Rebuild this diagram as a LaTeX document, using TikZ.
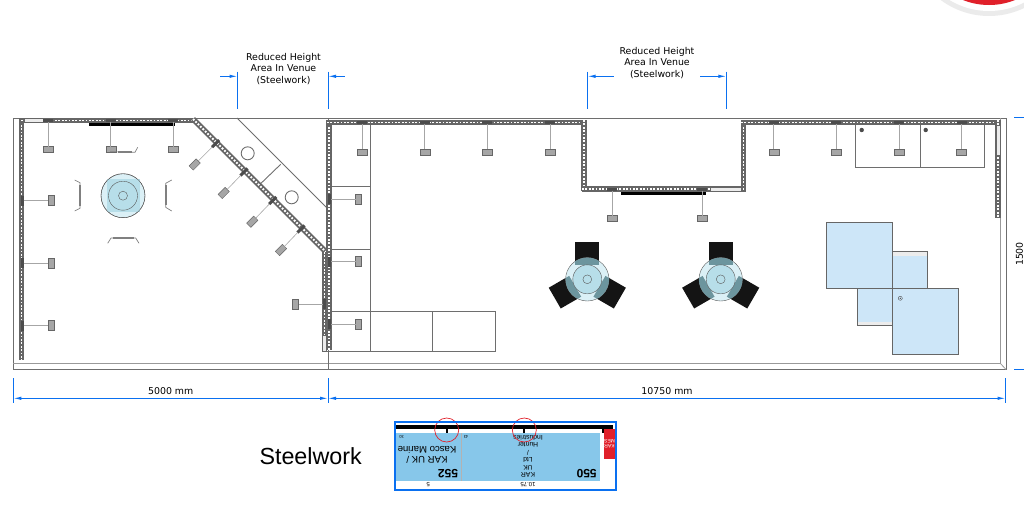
\documentclass[tikz,border=0pt]{standalone}
\usepackage{fontspec}
\setmainfont{DejaVu Sans}
\newfontfamily\arialfont{Liberation Sans}
\usetikzlibrary{arrows.meta}
\definecolor{dimblue}{HTML}{0A70F0}
\definecolor{trussgray}{HTML}{666666}
\definecolor{floorline}{HTML}{6E6E6E}
\definecolor{tablepale}{HTML}{DBF0F6}
\definecolor{tablemid}{HTML}{B7DEE9}
\definecolor{tableedge}{HTML}{6C959E}
\definecolor{platform}{HTML}{CDE6F8}
\definecolor{insetblue}{HTML}{87C7EA}
\definecolor{markred}{HTML}{E0202A}

\tikzset{
  pics/tableset/.style={code={
    \fill[black!92] (-12,-37.6) rectangle (12,-14);
    \fill[black!92,rotate=120] (-12,-37.6) rectangle (12,-14);
    \fill[black!92,rotate=240] (-12,-37.6) rectangle (12,-14);
    \draw[tableline,fill=tablepale] (0,0) circle (21.7);
    \begin{scope}
      \clip (0,0) circle (21.7);
      \fill[tableedge] (-12,-37.6) rectangle (12,-14);
      \fill[tableedge,rotate=120] (-12,-37.6) rectangle (12,-14);
      \fill[tableedge,rotate=240] (-12,-37.6) rectangle (12,-14);
    \end{scope}
    \draw[tableline,fill=tablemid] (0,0) circle (14.5);
    \draw[tableline] (0,0) circle (4.4);
  }}
}

\begin{document}
\begin{tikzpicture}[x=1pt,y=-1pt,
   every node/.style={inner sep=0pt,outer sep=0pt},
   txt/.style={font=\fontsize{9.4}{11.5}\selectfont,align=center},
   inset/.style={font=\arialfont\fontsize{6.8}{7.5}\selectfont,align=center,rotate=180},
   dimline/.style={color=dimblue,line width=1pt},
   dimtip/.style={dimline,{Latex[length=8pt,width=3.4pt]}-},
   dimboth/.style={dimline,{Latex[length=8pt,width=3.4pt]}-{Latex[length=8pt,width=3.4pt]}},
   floor/.style={color=floorline,line width=.9pt},
   thinfloor/.style={color=floorline!70,line width=.8pt},
   truss/.style={color=trussgray,line width=5.6pt,
     postaction={draw=white,line width=1.8pt,dash pattern=on 1.8pt off 1.6pt}},
   gapbar/.style={fill=gray!15,draw=trussgray,line width=.4pt},
   lamph/.style={draw=trussgray,fill=gray!70,line width=.4pt,minimum width=10pt,minimum height=6pt},
   lampv/.style={draw=trussgray,fill=gray!70,line width=.4pt,minimum width=6pt,minimum height=10pt},
   lampd/.style={lamph,rotate=45},
   brh/.style={fill=black!70,minimum width=10pt,minimum height=3pt},
   brv/.style={fill=black!70,minimum width=3pt,minimum height=10pt},
   brd/.style={brh,rotate=45},
   stem/.style={color=gray!70,line width=.6pt},
   chair/.style={color=gray,line width=.7pt},
   chairbar/.style={color=gray,line width=1.8pt},
   tableline/.style={color=black!65,line width=.4pt},
   deck/.style={draw=black!60,fill=platform,line width=.7pt}]
   \useasboundingbox (0,0) rectangle (1024,515);

   % badge cut by the page
   \begin{scope}
     \clip (0,0) rectangle (1024,515);
     \fill[black!8] (989,-65) circle (81);
     \fill[white] (989,-65) circle (76);
     \fill[markred] (989,-65) circle (70);
   \end{scope}

   % hall outline
   \draw[floor] (13,118) rectangle (1006,369.5);
   \draw[thinfloor] (13,363) -- (1000,363) -- (1000,118);
   \draw[thinfloor] (1000,363) -- (1006,369.5);
   \draw[floor] (328,118) -- (328,369.5);

   % corner room and cabinets
   \draw[floor] (237,118) -- (327,208);
   \draw[floor] (261,183.3) -- (280.7,164.3);
   \draw[floor] (247.7,153.3) circle (6.5);
   \draw[floor] (291.7,197.3) circle (6.5);
   \draw[floor] (370,122) -- (370,351);
   \draw[floor] (331,186.7) -- (370,186.7);
   \draw[floor] (331,249.3) -- (370,249.3);
   \draw[floor] (331,311.7) -- (495.7,311.7) -- (495.7,351) -- (323,351);
   \draw[floor] (432.7,311.7) -- (432.7,351);
   \draw[floor] (855.7,122) -- (855.7,167.7) -- (984.3,167.7) -- (984.3,122);
   \draw[floor] (920,122) -- (920,167.7);
   \fill[black!70] (861.7,130) circle (2.2);
   \fill[black!70] (925.7,130) circle (2.2);

   % steelwork
   \draw[truss] (21.5,118) -- (21.5,360);
   \draw[truss] (21,120.5) -- (193,120.5);
   \draw[truss] (193,119) -- (326,252);
   \draw[truss] (329,120) -- (329,350);
   \draw[truss] (324.5,252) -- (324.5,351);
   \draw[truss] (327,122.5) -- (584,122.5);
   \draw[truss] (584,120) -- (584,191);
   \draw[truss] (582,189) -- (746,189);
   \draw[truss] (743.5,120) -- (743.5,191);
   \draw[truss] (741,122.5) -- (1000,122.5);
   \draw[truss] (998,120) -- (998,218);
   \draw[gapbar] (24.5,118.5) rectangle (43,122.5);
   \draw[gapbar] (710,187.3) rectangle (741.5,190.7);
   \draw[gapbar] (322.5,335) rectangle (326.5,351);
   \draw[gapbar] (996,125) rectangle (1000,155);
   \fill[black] (89,122.5) rectangle (175,126);
   \fill[black] (620.7,191.5) rectangle (706,195);

   % lamps, left hall
   \node[brh] (bt1) at (48,120.5) {}; \node[lamph] (lt1) at (48,149.5) {}; \draw[stem] (bt1) -- (lt1);
   \node[brh] (bt2) at (110.7,120.5) {}; \node[lamph] (lt2) at (110.7,149.5) {}; \draw[stem] (bt2) -- (lt2);
   \node[brh] (bt3) at (173,120.5) {}; \node[lamph] (lt3) at (173,149.5) {}; \draw[stem] (bt3) -- (lt3);
   \node[brv] (bw1) at (22,200.5) {}; \node[lampv] (lw1) at (50.7,200.5) {}; \draw[stem] (bw1) -- (lw1);
   \node[brv] (bw2) at (22,263) {}; \node[lampv] (lw2) at (50.7,263) {}; \draw[stem] (bw2) -- (lw2);
   \node[brv] (bw3) at (22,325.5) {}; \node[lampv] (lw3) at (50.7,325.5) {}; \draw[stem] (bw3) -- (lw3);
   \node[brd] (bd1) at (215.6,143.6) {}; \node[lampd] (ld1) at (194.7,164.5) {}; \draw[stem] (bd1) -- (ld1);
   \node[brd] (bd2) at (244,172) {}; \node[lampd] (ld2) at (223.7,193) {}; \draw[stem] (bd2) -- (ld2);
   \node[brd] (bd3) at (272.7,200.5) {}; \node[lampd] (ld3) at (252.3,221.7) {}; \draw[stem] (bd3) -- (ld3);
   \node[brd] (bd4) at (301,229) {}; \node[lampd] (ld4) at (281,250) {}; \draw[stem] (bd4) -- (ld4);
   \node[brv] (bx1) at (324,304) {}; \node[lampv] (lx1) at (295.5,304) {}; \draw[stem] (bx1) -- (lx1);

   % lamps, right hall
   \node[brv] (br1) at (329.5,199) {}; \node[lampv] (lr1) at (358.6,199) {}; \draw[stem] (br1) -- (lr1);
   \node[brv] (br2) at (329.5,261.5) {}; \node[lampv] (lr2) at (358.6,261.5) {}; \draw[stem] (br2) -- (lr2);
   \node[brv] (br3) at (329.5,324) {}; \node[lampv] (lr3) at (358.6,324) {}; \draw[stem] (br3) -- (lr3);
   \node[brh] (bu1) at (362,122.5) {}; \node[lamph] (lu1) at (362,152) {}; \draw[stem] (bu1) -- (lu1);
   \node[brh] (bu2) at (424.7,122.5) {}; \node[lamph] (lu2) at (424.7,152) {}; \draw[stem] (bu2) -- (lu2);
   \node[brh] (bu3) at (487.3,122.5) {}; \node[lamph] (lu3) at (487.3,152) {}; \draw[stem] (bu3) -- (lu3);
   \node[brh] (bu4) at (550,122.5) {}; \node[lamph] (lu4) at (550,152) {}; \draw[stem] (bu4) -- (lu4);
   \node[brh] (bm1) at (612,189) {}; \node[lamph] (lm1) at (612,218.5) {}; \draw[stem] (bm1) -- (lm1);
   \node[brh] (bm2) at (702,189) {}; \node[lamph] (lm2) at (702,218.5) {}; \draw[stem] (bm2) -- (lm2);
   \node[brh] (bv1) at (773.7,122.5) {}; \node[lamph] (lv1) at (773.7,152) {}; \draw[stem] (bv1) -- (lv1);
   \node[brh] (bv2) at (836,122.5) {}; \node[lamph] (lv2) at (836,152) {}; \draw[stem] (bv2) -- (lv2);
   \node[brh] (bv3) at (899,122.5) {}; \node[lamph] (lv3) at (899,152) {}; \draw[stem] (bv3) -- (lv3);
   \node[brh] (bv4) at (961.5,122.5) {}; \node[lamph] (lv4) at (961.5,152) {}; \draw[stem] (bv4) -- (lv4);

   % left table and chairs
   \draw[tableline,fill=tablepale] (123,195.7) circle (22);
   \fill[tablemid] (106.5,179.2) rectangle (139.5,212.2);
   \draw[tableline,fill=tablemid] (123,195.7) circle (14.5);
   \draw[tableline] (123,195.7) circle (22);
   \draw[tableline] (123,195.7) circle (4.5);
   \draw[chair] (74.7,180) -- (80,182.7) -- (80,208.3) -- (74.7,211);
   \draw[chairbar] (80,185) -- (80,206);
   \draw[chair] (171.7,180) -- (165.7,183.3) -- (165.7,207.3) -- (171.7,211);
   \draw[chairbar] (165.7,185) -- (165.7,205);
   \draw[chair] (107.7,243.3) -- (111,238) -- (135.7,238) -- (139,243.3);
   \draw[chairbar] (113,238) -- (134,238);
   \draw[chair] (110,151.7) -- (135,152.3) -- (137.7,147.3);
   \draw[chairbar] (118,152) -- (132,152);

   % right tables
   \pic at (587.3,279.3) {tableset};
   \pic at (720.7,279.3) {tableset};

   % raised decks
   \draw[deck] (892.3,251) rectangle (927.3,288.3);
   \fill[gray!15] (893,251.5) rectangle (927,256);
   \draw[deck] (857,288.3) rectangle (892.3,325.7);
   \fill[gray!15] (857.5,321.5) rectangle (892,325.3);
   \draw[deck] (826,222.3) rectangle (892.3,288.3);
   \draw[deck] (892.3,288.3) rectangle (958.3,354.3);
   \draw[black!70,line width=.4pt] (900.3,298.3) circle (2);
   \fill[black!70] (900.3,298.3) circle (.7);

   % reduced height marks
   \node[txt] (redleft) at (283.5,68.8) {Reduced Height\\Area In Venue\\(Steelwork)};
   \node[txt] (redright) at (657,63) {Reduced Height\\Area In Venue\\(Steelwork)};
   \draw[dimline] (237.5,71.7) -- (237.5,108.7);
   \draw[dimline] (328,71.7) -- (328,108.7);
   \draw[dimline] (587.5,71.7) -- (587.5,108.7);
   \draw[dimline] (726.4,71.7) -- (726.4,108.7);
   \draw[dimtip] (237.5,76.3) -- (220,76.3);
   \draw[dimtip] (328,76.3) -- (345,76.3);
   \draw[dimtip] (587.5,76.3) -- (614,76.3);
   \draw[dimtip] (726.4,76.3) -- (700,76.3);

   % overall dimensions
   \draw[dimline] (13.3,378) -- (13.3,403);
   \draw[dimline] (328,378) -- (328,403);
   \draw[dimline] (1005.5,378) -- (1005.5,403);
   \draw[dimboth] (13.3,398.3) -- (328,398.3);
   \draw[dimboth] (328,398.3) -- (1005.5,398.3);
   \node[txt] (widthleft) at (170.7,390.7) {5000 mm};
   \node[txt] (widthright) at (667,390.7) {10750 mm};
   \draw[dimline] (1014,117.5) -- (1024,117.5);
   \draw[dimline] (1014,369.5) -- (1024,369.5);
   \node[txt,rotate=90] (depth) at (1019.5,254) {1500};

   % inset
   \node[font=\arialfont\fontsize{23.3}{26}\selectfont,anchor=west] (steeltitle) at (259.5,456) {Steelwork};
   \fill[insetblue] (396,433) rectangle (600,480.7);
   \draw[black!30,line width=.4pt] (461,433) -- (461,480.7);
   \fill[markred] (604.3,429) rectangle (615,459);
   \draw[black,line width=3.8pt] (396,427.3) -- (613,427.3);
   \fill[black] (445.7,427) rectangle (447.7,432.5);
   \fill[black] (523.3,427) rectangle (525.3,432.5);
   \fill[black] (602,427) rectangle (604,432.5);
   \node[inset,font=\arialfont\bfseries\fontsize{12}{12}\selectfont] (num552) at (448,474) {552};
   \node[inset,font=\arialfont\bfseries\fontsize{12}{12}\selectfont] (num550) at (586.7,474) {550};
   \node[inset,font=\arialfont\fontsize{9.6}{10}\selectfont] (kasco) at (427,455) {KAR UK /\\Kasco Marine};
   \node[inset] (hunter) at (528,456.3) {KAR\\UK\\Ltd\\/\\Hunter\\Industries};
   \node[inset,font=\arialfont\fontsize{4}{4}\selectfont] (w30) at (401.7,437) {30};
   \node[inset,font=\arialfont\fontsize{4}{4}\selectfont] (w43) at (466,437) {43};
   \node[inset,font=\arialfont\fontsize{5}{5}\selectfont,text=white] (redtag) at (609.5,444) {KAR\\MES};
   \node[inset,font=\arialfont\fontsize{6}{6}\selectfont] (len5) at (428.3,485) {5};
   \node[inset,font=\arialfont\fontsize{6}{6}\selectfont] (len1075) at (528,485) {10.75};
   \draw[markred,line width=.7pt] (446.7,430) circle (12);
   \draw[markred,line width=.7pt] (524.3,430) circle (12);
   \draw[dimblue,line width=1.6pt] (395,421.7) rectangle (616,490);
\end{tikzpicture}
\end{document}
